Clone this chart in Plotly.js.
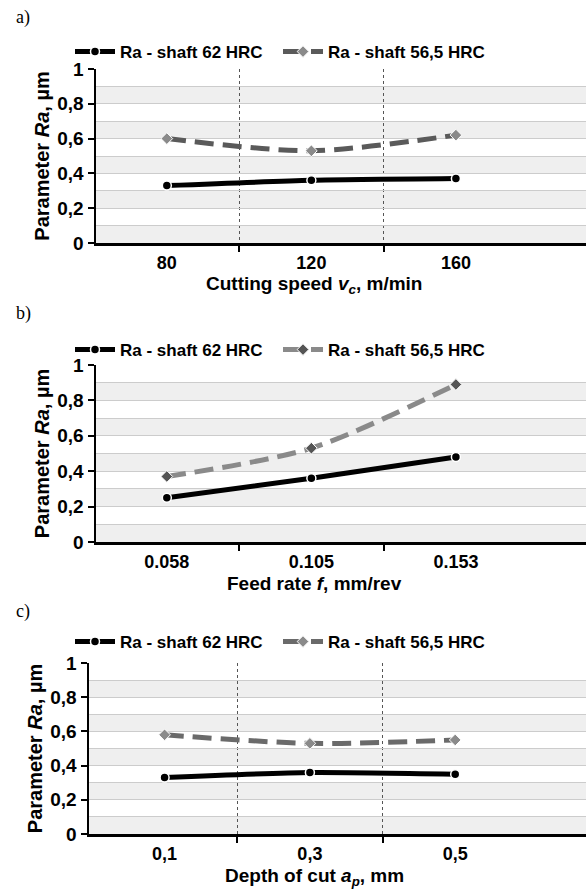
<!DOCTYPE html>
<html>
<head>
<meta charset="utf-8">
<script src="https://cdn.plot.ly/plotly-3.0.1.min.js"></script>
<style>
  html, body { margin: 0; padding: 0; background: #fff; overflow: hidden; }
  #chart { width: 586px; height: 891px; }
</style>
</head>
<body>
<div id="chart"></div>
<script>
// ---- data ----
const speedCategories = ['80', '120', '160'];
const feedCategories = ['0.058', '0.105', '0.153'];
const depthCategories = ['0,1', '0,3', '0,5'];

const seriesNames = ['Ra - shaft 62 HRC', 'Ra - shaft 56,5 HRC'];

const speedRa62 = [0.33, 0.36, 0.37];
const speedRa565 = [0.60, 0.53, 0.62];

const feedRa62 = [0.25, 0.36, 0.48];
const feedRa565 = [0.37, 0.53, 0.89];

const depthRa62 = [0.33, 0.36, 0.35];
const depthRa565 = [0.58, 0.53, 0.55];

const panelLabels = ['a)', 'b)', 'c)'];
const xTitles = ['Cutting speed <i>v<sub>c</sub></i>, m/min', 'Feed rate <i>f</i>, mm/rev', 'Depth of cut <i>a<sub>p</sub></i>, mm'];
const yTitle = 'Parameter <i>Ra</i>, µm';

// ---- layout helpers ----
const W = 586, H = 891;
const py = p => 1 - p / H;
const px = p => p / W;

const panels = [
  { cats: speedCategories, a: speedRa62, b: speedRa565, top: 69, bottom: 243, left: 96, vgrid: true,
    dashColor: '#5a5a5a', diaColor: '#8a8a8a', legendY: 52, labelY: 17, titleY: 285, range: [-0.49, 2.9] },
  { cats: feedCategories, a: feedRa62, b: feedRa565, top: 365, bottom: 542, left: 96, vgrid: false,
    dashColor: '#8a8a8a', diaColor: '#555555', legendY: 350, labelY: 314, titleY: 583, range: [-0.49, 2.9] },
  { cats: depthCategories, a: depthRa62, b: depthRa565, top: 663, bottom: 834, left: 89, vgrid: true,
    dashColor: '#6a6a6a', diaColor: '#8a8a8a', legendY: 642, labelY: 611, titleY: 877, range: [-0.52, 2.9] }
];

const traces = [];
const layout = {
  width: W, height: H,
  margin: { l: 0, r: 0, t: 0, b: 0 },
  paper_bgcolor: '#ffffff',
  plot_bgcolor: '#ffffff',
  separators: ', ',
  font: { family: 'Liberation Sans, Arial, sans-serif', color: '#000', size: 17 },
  shapes: [],
  annotations: []
};

const boldFont = sz => ({ family: 'Liberation Sans, Arial, sans-serif', size: sz, color: '#000', weight: 'bold' });

panels.forEach((p, i) => {
  const n = i === 0 ? '' : String(i + 1);
  const xa = 'x' + n, ya = 'y' + n;
  const legendId = 'legend' + n;
  const xs = p.cats.map((_, k) => k);

  traces.push({
    x: xs, y: p.a, xaxis: xa, yaxis: ya, legend: legendId,
    name: seriesNames[0], type: 'scatter', mode: 'lines+markers',
    line: { color: '#000000', width: 5, shape: 'spline', smoothing: 0.6 },
    marker: { symbol: 'circle', size: 9, color: '#000000', line: { color: '#ffffff', width: 1.5 } },
    cliponaxis: false
  });
  traces.push({
    x: xs, y: p.b, xaxis: xa, yaxis: ya, legend: legendId,
    name: seriesNames[1], type: 'scatter', mode: 'lines+markers',
    line: { color: p.dashColor, width: 5, dash: '19px,9px', shape: 'spline', smoothing: 0.8 },
    marker: { symbol: 'diamond', size: 9, color: p.diaColor, line: { color: '#ffffff', width: 1 } },
    cliponaxis: false
  });

  layout['xaxis' + n] = {
    domain: [px(p.left), 1], anchor: ya, range: p.range, type: 'linear',
    tickmode: 'array', tickvals: xs, ticktext: p.cats,
    ticks: '', showgrid: false, zeroline: false,
    showline: true, linecolor: '#000', linewidth: 2.5,
    tickfont: boldFont(18), ticklabelstandoff: 2,
    minor: {
      tickmode: 'array', tickvals: [0.5, 1.5], ticks: 'outside', ticklen: 6, tickwidth: 2, tickcolor: '#000',
      showgrid: p.vgrid, gridcolor: '#555555', gridwidth: 1, griddash: 'dot'
    },
    fixedrange: true
  };
  layout['yaxis' + n] = {
    domain: [py(p.bottom), py(p.top)], anchor: xa, range: [0, 1],
    tickmode: 'linear', tick0: 0, dtick: 0.2,
    ticks: 'outside', ticklen: 6, tickwidth: 2, tickcolor: '#000',
    showgrid: true, gridcolor: '#cccccc', gridwidth: 1,
    minor: { dtick: 0.1, showgrid: true, gridcolor: '#cccccc', gridwidth: 1 },
    zeroline: false, showline: true, linecolor: '#000', linewidth: 2.5,
    tickfont: boldFont(19),
    title: { text: yTitle, font: boldFont(20), standoff: 3 },
    automargin: false, fixedrange: true
  };

  // alternating background bands
  for (let k = 0; k < 10; k += 2) {
    layout.shapes.push({
      type: 'rect', xref: xa + ' domain', yref: ya, x0: 0, x1: 1, y0: k / 10, y1: (k + 1) / 10,
      fillcolor: '#efefef', line: { width: 0 }, layer: 'below'
    });
  }

  layout[legendId] = {
    orientation: 'h', x: px(70), y: py(p.legendY), xanchor: 'left', yanchor: 'middle',
    xref: 'paper', yref: 'paper', bgcolor: 'rgba(0,0,0,0)',
    font: boldFont(17), itemwidth: 40, entrywidth: 153, tracegroupgap: 0, traceorder: 'normal'
  };

  layout.annotations.push({
    text: panelLabels[i], xref: 'paper', yref: 'paper', x: px(14), y: py(p.labelY),
    xanchor: 'left', yanchor: 'middle', showarrow: false,
    font: { family: 'Liberation Serif, Times New Roman, serif', size: 18, color: '#000' }
  });
  layout.annotations.push({
    text: xTitles[i], xref: 'paper', yref: 'paper', x: px(314), y: py(p.titleY),
    xanchor: 'center', yanchor: 'middle', showarrow: false,
    font: boldFont(19)
  });
});

Plotly.newPlot('chart', traces, layout, { staticPlot: true, displayModeBar: false });
</script>
</body>
</html>
